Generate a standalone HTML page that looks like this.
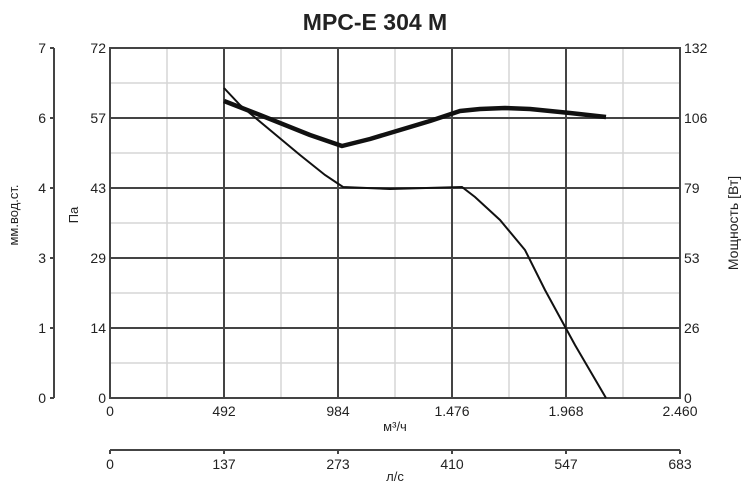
<!DOCTYPE html>
<html><head><style>
body{margin:0;background:#fff;}
svg text{font-family:"Liberation Sans",sans-serif;fill:#222;}
</style></head><body>
<svg width="750" height="486" viewBox="0 0 750 486" xmlns="http://www.w3.org/2000/svg">
<rect width="750" height="486" fill="#fff"/>
<text x="375" y="30" text-anchor="middle" font-size="23" font-weight="bold" fill="#111">MPC-E 304 M</text>
<g stroke="#d6d6d6" stroke-width="1.5">
<line x1="167" y1="48" x2="167" y2="398"/><line x1="281" y1="48" x2="281" y2="398"/>
<line x1="395" y1="48" x2="395" y2="398"/><line x1="509" y1="48" x2="509" y2="398"/>
<line x1="623" y1="48" x2="623" y2="398"/>
<line x1="110" y1="83" x2="680" y2="83"/><line x1="110" y1="153" x2="680" y2="153"/>
<line x1="110" y1="223" x2="680" y2="223"/><line x1="110" y1="293" x2="680" y2="293"/>
<line x1="110" y1="363" x2="680" y2="363"/>
</g>
<g stroke="#444" stroke-width="2">
<line x1="224" y1="48" x2="224" y2="398"/><line x1="338" y1="48" x2="338" y2="398"/>
<line x1="452" y1="48" x2="452" y2="398"/><line x1="566" y1="48" x2="566" y2="398"/>
<line x1="110" y1="118" x2="680" y2="118"/><line x1="110" y1="188" x2="680" y2="188"/>
<line x1="110" y1="258" x2="680" y2="258"/><line x1="110" y1="328" x2="680" y2="328"/>
<rect x="110" y="48" width="570" height="350" fill="none"/>
<line x1="54" y1="48" x2="54" y2="398"/>
<line x1="50" y1="48" x2="54" y2="48"/><line x1="50" y1="118" x2="54" y2="118"/><line x1="50" y1="188" x2="54" y2="188"/>
<line x1="50" y1="258" x2="54" y2="258"/><line x1="50" y1="328" x2="54" y2="328"/><line x1="50" y1="398" x2="54" y2="398"/>
<line x1="110" y1="450" x2="680" y2="450"/>
<line x1="110" y1="450" x2="110" y2="454"/><line x1="224" y1="450" x2="224" y2="454"/><line x1="338" y1="450" x2="338" y2="454"/>
<line x1="452" y1="450" x2="452" y2="454"/><line x1="566" y1="450" x2="566" y2="454"/><line x1="680" y1="450" x2="680" y2="454"/>
</g>
<polyline fill="none" stroke="#111" stroke-width="2" points="224,88 240,105 270,130 300,155 325,175 343,187 390,189 462,187 475,197 500,220 525,250 545,290 575,345 606,398"/>
<polyline fill="none" stroke="#111" stroke-width="4.5" stroke-linejoin="round" points="224,101 260,115 310,135 342,146 370,139 400,130 430,121 460,111 480,109 505,108 530,109 570,113 606,117"/>
<g font-size="14">
<g text-anchor="end">
<text x="46" y="53">7</text><text x="46" y="123">6</text><text x="46" y="193">4</text><text x="46" y="263">3</text><text x="46" y="333">1</text><text x="46" y="403">0</text>
<text x="106" y="53">72</text><text x="106" y="123">57</text><text x="106" y="193">43</text><text x="106" y="263">29</text><text x="106" y="333">14</text><text x="106" y="403">0</text>
</g>
<g text-anchor="start">
<text x="684" y="53">132</text><text x="684" y="123">106</text><text x="684" y="193">79</text><text x="684" y="263">53</text><text x="684" y="333">26</text><text x="684" y="403">0</text>
</g>
<g text-anchor="middle">
<text x="110" y="416">0</text><text x="224" y="416">492</text><text x="338" y="416">984</text><text x="452" y="416">1.476</text><text x="566" y="416">1.968</text><text x="680" y="416">2.460</text>
<text x="110" y="469">0</text><text x="224" y="469">137</text><text x="338" y="469">273</text><text x="452" y="469">410</text><text x="566" y="469">547</text><text x="680" y="469">683</text>
</g>
<text x="395" y="431" text-anchor="middle" font-size="13">м³/ч</text>
<text x="395" y="481" text-anchor="middle" font-size="13">л/с</text>
<text transform="translate(18,215) rotate(-90)" text-anchor="middle" font-size="13">мм.вод.ст.</text>
<text transform="translate(78,215) rotate(-90)" text-anchor="middle" font-size="13">Па</text>
<text transform="translate(738,223) rotate(-90)" text-anchor="middle" font-size="14">Мощность [Вт]</text>
</g>
</svg>
</body></html>
